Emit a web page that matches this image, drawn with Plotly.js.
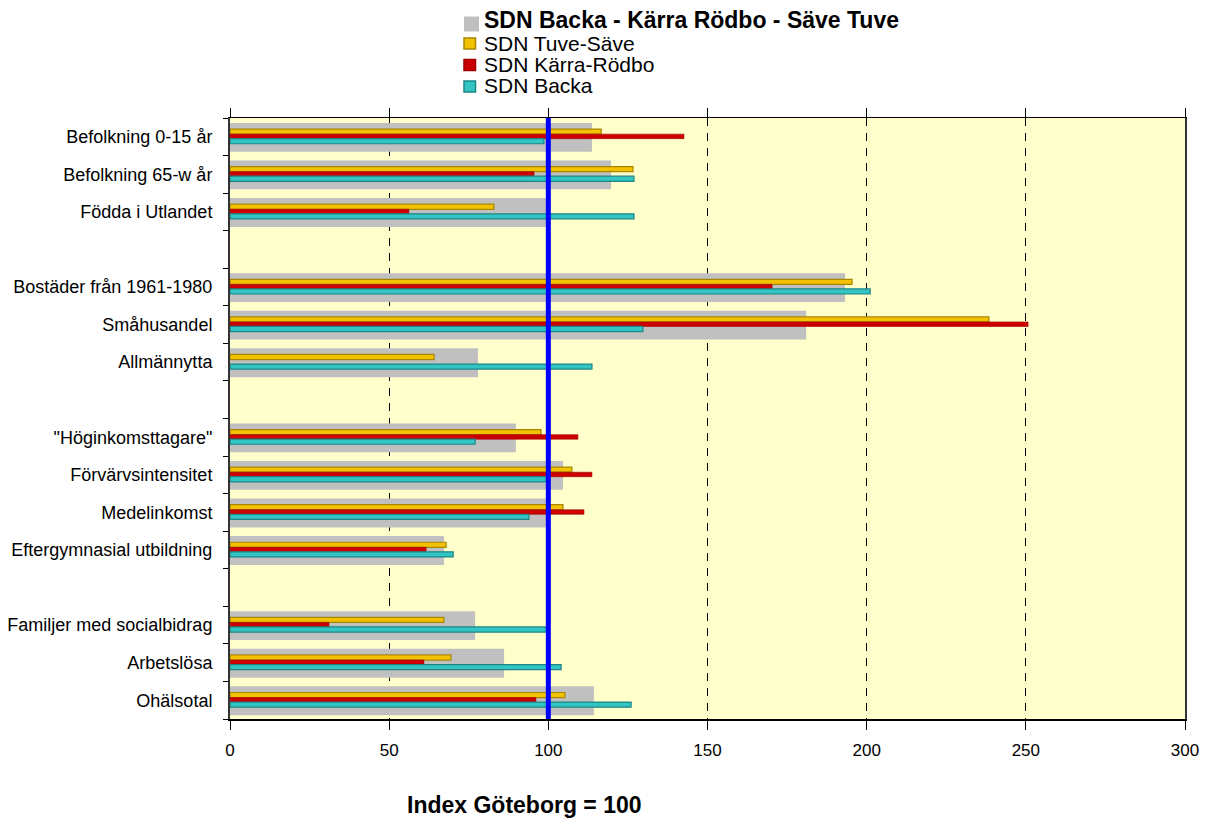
<!DOCTYPE html>
<html>
<head>
<meta charset="utf-8">
<script src="https://cdn.plot.ly/plotly-3.0.1.min.js"></script>
<style>
  html, body { margin: 0; padding: 0; background: #ffffff; }
  #chart { width: 1205px; height: 823px; }
</style>
</head>
<body>
<div id="chart"></div>
<script>
// Categories from top to bottom; "" marks an empty gap row
const categories = [
  "Befolkning 0-15 år", "Befolkning 65-w år", "Födda i Utlandet", "",
  "Bostäder från 1961-1980", "Småhusandel", "Allmännytta", "",
  "\"Höginkomsttagare\"", "Förvärvsintensitet", "Medelinkomst", "Eftergymnasial utbildning", "",
  "Familjer med socialbidrag", "Arbetslösa", "Ohälsotal"
];

const seriesNames = [
  "SDN Backa - Kärra Rödbo - Säve Tuve",
  "SDN Tuve-Säve",
  "SDN Kärra-Rödbo",
  "SDN Backa"
];

const totalSDN   = [113.7, 119.7, 99.3, null, 193.2, 181.0, 77.9, null, 89.8, 104.6, 100.0, 67.2, null, 77.0, 86.1, 114.3];
const tuveSave   = [116.6, 126.6, 82.9, null, 195.4, 238.4, 64.1, null, 97.7, 107.4, 104.6, 67.9, null, 67.2, 69.4, 105.2];
const karraRodbo = [142.6,  95.5, 56.2, null, 170.3, 250.7, null, null, 109.3, 113.7, 111.2, 61.6, null, 31.1, 60.9, 96.1];
const backa      = [ 98.6, 126.9, 126.9, null, 201.1, 129.7, 113.7, null, 77.0, 99.3, 93.9, 70.1, null, 99.3, 104.0, 126.0];

const xTicks = [0, 50, 100, 150, 200, 250, 300];
const indexRef = 100;
const axisTitle = "Index Göteborg = 100";

const pos = categories.map((_, i) => i);
const FONT = "Arial, 'Liberation Sans', sans-serif";

// style per series
const fills = ["#c0c0c0", "#f2c200", "#cc0000", "#33c4c4"];
const edges = ["#c0c0c0", "#a88600", "#a00000", "#1d8585"];

const W = 1205, H = 823;
const M = { l: 230, r: 20, t: 118, b: 104 };
const plotW = W - M.l - M.r, plotH = H - M.t - M.b;
const px2x = px => (px - M.l) / plotW;
const py2y = py => (H - M.b - py) / plotH;

const traces = [
  {
    type: "bar", orientation: "h", name: seriesNames[0],
    x: totalSDN, y: pos, width: 0.77, offset: -0.37,
    marker: { color: fills[0], line: { width: 0 } },
    hoverinfo: "x"
  },
  {
    type: "bar", orientation: "h", name: seriesNames[1],
    x: tuveSave, y: pos, width: 0.135, offset: -0.205,
    marker: { color: fills[1], line: { color: edges[1], width: 1.2 } },
    hoverinfo: "x"
  },
  {
    type: "bar", orientation: "h", name: seriesNames[2],
    x: karraRodbo, y: pos, width: 0.12, offset: -0.07,
    marker: { color: fills[2], line: { color: edges[2], width: 0.6 } },
    hoverinfo: "x"
  },
  {
    type: "bar", orientation: "h", name: seriesNames[3],
    x: backa, y: pos, width: 0.135, offset: 0.05,
    marker: { color: fills[3], line: { color: edges[3], width: 1.2 } },
    hoverinfo: "x"
  }
];

// Legend drawn as text annotations + symbol rectangles (compact Excel-like spacing)
const legendRowsY = [20, 43, 64, 85];
const legendSymbols = [
  { x0: 464, x1: 479, y0: 16.5, y1: 31.5 },
  { x0: 464, x1: 475.5, y0: 38, y1: 49 },
  { x0: 464, x1: 475.5, y0: 59.5, y1: 70.5 },
  { x0: 464, x1: 475.5, y0: 81, y1: 92 }
];
const legendShapes = legendSymbols.map((s, i) => ({
  type: "rect", xref: "paper", yref: "paper", layer: "above",
  x0: px2x(s.x0), x1: px2x(s.x1), y0: py2y(s.y1), y1: py2y(s.y0),
  fillcolor: fills[i],
  line: { color: edges[i], width: i === 0 ? 0 : 1.5 }
}));
const legendAnnots = seriesNames.map((n, i) => ({
  text: i === 0 ? "<b>" + n + "</b>" : n,
  xref: "paper", yref: "paper",
  x: px2x(482), y: py2y(legendRowsY[i]),
  xanchor: "left", yanchor: "middle",
  showarrow: false,
  font: { family: FONT, size: i === 0 ? 23 : 21, color: "#000000" }
}));

const layout = {
  width: W, height: H,
  margin: M,
  paper_bgcolor: "#ffffff",
  plot_bgcolor: "#ffffcc",
  barmode: "overlay",
  showlegend: false,
  font: { family: FONT, size: 14, color: "#000000" },
  xaxis: {
    range: [0, 300],
    tickvals: xTicks,
    ticktext: xTicks.map(String),
    ticks: "outside", ticklen: 9, tickwidth: 1, tickcolor: "#000000",
    showline: true, linecolor: "#000000", linewidth: 1.5,
    mirror: "ticks",
    showgrid: true, gridcolor: "#000000", gridwidth: 1, griddash: "8px,7px",
    zeroline: false,
    tickfont: { family: FONT, size: 17, color: "#000000" },
    ticklabelstandoff: 6,
    fixedrange: true
  },
  yaxis: {
    range: [categories.length - 0.5, -0.5],
    tickvals: pos,
    ticktext: categories,
    ticks: "", ticklen: 0,
    minor: { tick0: 0.5, dtick: 1, ticks: "outside", ticklen: 5, tickcolor: "#000000", showgrid: false },
    showline: true, linecolor: "#333333", linewidth: 2,
    mirror: true,
    showgrid: false, zeroline: false,
    tickfont: { family: FONT, size: 18, color: "#000000" },
    ticklabelstandoff: 12,
    fixedrange: true
  },
  shapes: [
    {
      type: "line", layer: "above",
      xref: "x", yref: "paper",
      x0: indexRef, x1: indexRef, y0: 0, y1: 1,
      line: { color: "#0000ff", width: 5 }
    }
  ].concat(legendShapes),
  annotations: [
    {
      text: "<b>" + axisTitle + "</b>",
      xref: "paper", yref: "paper",
      x: px2x(524), y: py2y(805),
      xanchor: "center", yanchor: "middle",
      showarrow: false,
      font: { family: FONT, size: 23, color: "#000000" }
    }
  ].concat(legendAnnots)
};

Plotly.newPlot("chart", traces, layout, { displayModeBar: false, staticPlot: true });
</script>
</body>
</html>
